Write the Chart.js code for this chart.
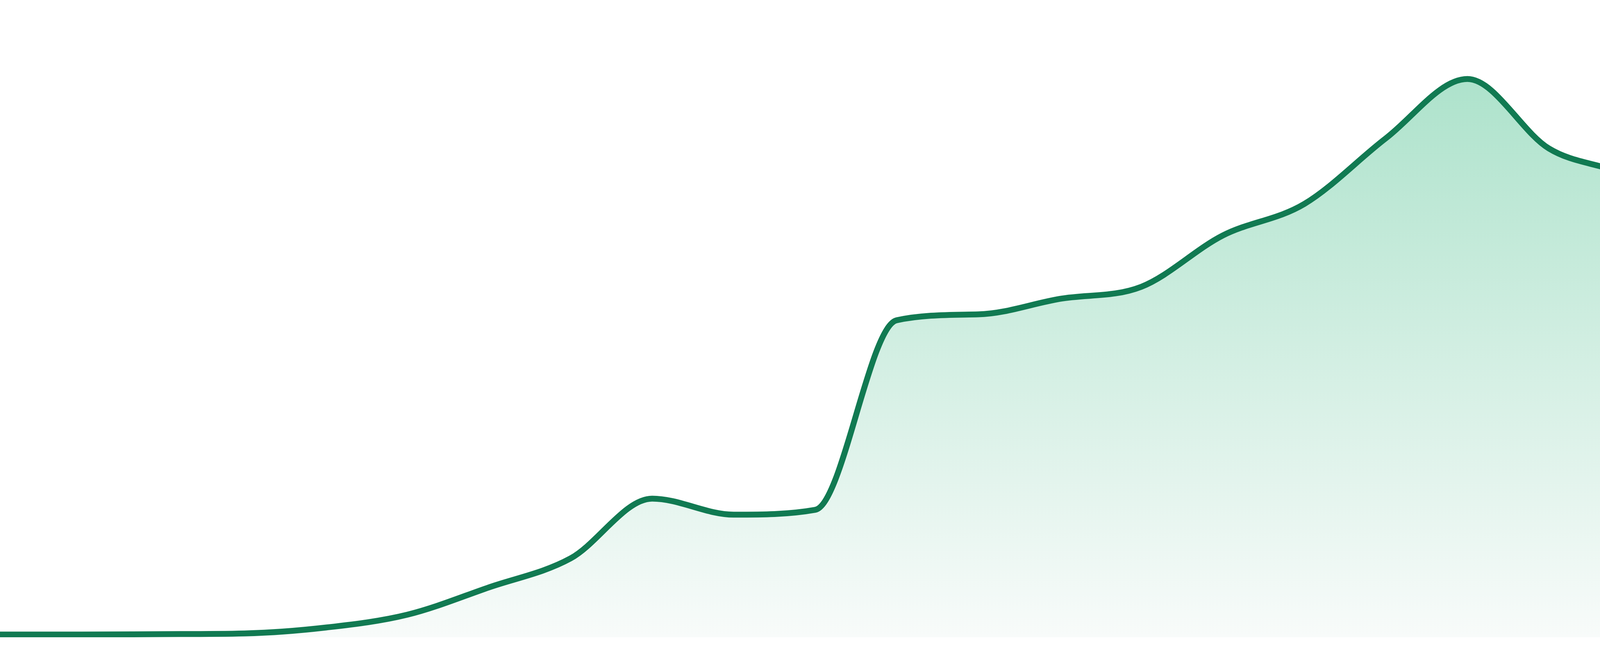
<!DOCTYPE html>
<html>
<head>
<meta charset="utf-8">
<script src="https://cdn.jsdelivr.net/npm/chart.js@4"></script>
<style>
    html, body { margin: 0; padding: 0; background: #ffffff; }
    #wrap { width: 4800px; height: 1680px; position: relative; }
</style>
</head>
<body>
<div id="wrap"><canvas id="chart"></canvas></div>
<script>
// 24 evenly spaced samples
const labels = [
    "1", "2", "3", "4", "5", "6", "7", "8", "9", "10", "11", "12",
    "13", "14", "15", "16", "17", "18", "19", "20", "21", "22", "23", "24"
];
const values = [
    0.43, 0.43, 0.49, 0.6, 1.53, 3.55, 7.84, 12.38, 21.75, 19.24, 20.0, 49.75,
    50.67, 53.1, 55.0, 63.05, 68.0, 78.3, 87.6, 76.7, 72.06, 62.0, 59.8, 61.95
];
const yMin = 0;
const yMax = 100;

const lineColor = "#117a52";

// fill fades from light green at the top to almost white at the bottom
function fillGradient(context) {
    const chart = context.chart;
    const area = chart.chartArea;
    if (!area) return null;
    const g = chart.ctx.createLinearGradient(0, area.top, 0, area.bottom);
    g.addColorStop(0, "rgb(163, 223, 197)");
    g.addColorStop(1, "rgb(248, 251, 250)");
    return g;
}

function createChart() {
    const contexto = document.getElementById("chart");
    new Chart(contexto, {
        type: "line",
        data: {
            labels: labels,
            datasets: [
                {
                    data: values,
                    borderColor: lineColor,
                    borderWidth: 15,
                    backgroundColor: fillGradient,
                    fill: "origin",
                    pointRadius: 0,
                    cubicInterpolationMode: "monotone",
                },
            ],
        },
        options: {
            responsive: true,
            maintainAspectRatio: false,
            animation: false,
            layout: { padding: { top: 0, right: 0, bottom: 48, left: 0 } },
            plugins: {
                legend: { display: false },
                tooltip: { enabled: false },
            },
            scales: {
                x: { display: false },
                y: { display: false, min: yMin, max: yMax },
            },
        },
    });
}

createChart();
</script>
</body>
</html>
